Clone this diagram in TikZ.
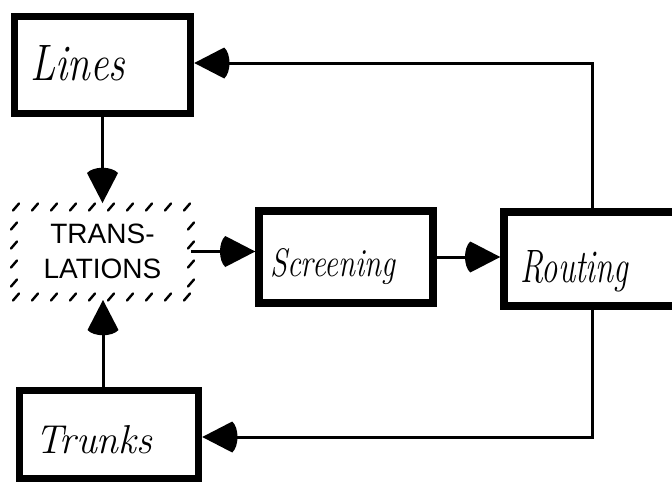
\documentclass[tikz,border=0pt]{standalone}
\usepackage{fontspec}
\setsansfont{Liberation Sans}
\usetikzlibrary{arrows.meta}

% filled cone-shaped tip with a rounded back
\pgfdeclarearrow{
  name = Cone,
  setup code = {
    \pgfarrowssettipend{0pt}
    \pgfarrowssetlineend{-25pt}
    \pgfarrowssetbackend{-36pt}
  },
  drawing code = {
    \pgfpathmoveto{\pgfpoint{0pt}{0pt}}
    \pgfpathlineto{\pgfpoint{-30pt}{15.5pt}}
    \pgfpathcurveto{\pgfpoint{-37pt}{9pt}}{\pgfpoint{-37pt}{-9pt}}{\pgfpoint{-30pt}{-15.5pt}}
    \pgfpathclose
    \pgfusepathqfill
  },
}

\begin{document}
\begin{tikzpicture}[x=1pt, y=-1pt,
  box/.style={draw, line width=7.5pt, inner sep=0pt, outer sep=3.75pt},
  hand/.style={font=\fontsize{30}{30}\selectfont\itshape, inner sep=0pt, anchor=base west},
  conn/.style={line width=3pt, -Cone},
  hatch/.style={line width=2.4pt, line cap=round}]

  \path[use as bounding box] (0,0) rectangle (672,482);
  \clip (0,0) rectangle (672,482);

  % solid blocks
  \node[box, minimum width=176pt, minimum height=97pt] (lines)  at (102.5,65)  {};
  \node[box, minimum width=179pt, minimum height=88pt] (trunks) at (109,434.5) {};
  \node[box, minimum width=174pt, minimum height=92pt] (screen) at (346,257)   {};
  \node[box, minimum width=176pt, minimum height=94pt] (route)  at (592,259)   {};

  % hand-lettered labels
  \node[hand] (linesText)  at (30,80)   {\resizebox{95pt}{35pt}{Lines}};
  \node[hand] (trunksText) at (35,453)  {\resizebox{117pt}{28pt}{Trunks}};
  \node[hand] (screenText) at (270,276) {\resizebox{125pt}{28pt}{Screening}};
  \node[hand] (routeText)  at (520,282) {\resizebox{108pt}{32pt}{Routing}};

  % translations block with a hatched outline
  \node[inner sep=0pt, outer sep=0pt, minimum width=177pt, minimum height=97pt,
        align=center, font=\sffamily\fontsize{28}{35}\selectfont] (trans) at (102.5,251.5)
        {TRANS-\\LATIONS};
  \foreach \x in {16,35,...,187} {
    \draw[hatch] (\x-3,210.5) -- (\x+3,203.5);
    \draw[hatch] (\x-3,300.5) -- (\x+3,293.5);
  }
  \foreach \y in {226,245,...,283} {
    \draw[hatch] (11,\y+3.5) -- (17,\y-3.5);
    \draw[hatch] (188,\y+3.5) -- (194,\y-3.5);
  }

  % connectors
  \draw[conn] (lines.south) -- (lines.south |- trans.north);
  \draw[conn] ([xshift=-6pt]trunks.north) -- ([xshift=-6pt]trunks.north |- trans.south);
  \draw[conn] (trans.east) -- (trans.east -| screen.west);
  \draw[conn] (screen.east) -- (screen.east -| route.west);
  \draw[conn] (route.north) |- ([yshift=2pt]lines.east);
  \draw[conn] (route.south) |- ([yshift=-2.5pt]trunks.east);
\end{tikzpicture}
\end{document}
